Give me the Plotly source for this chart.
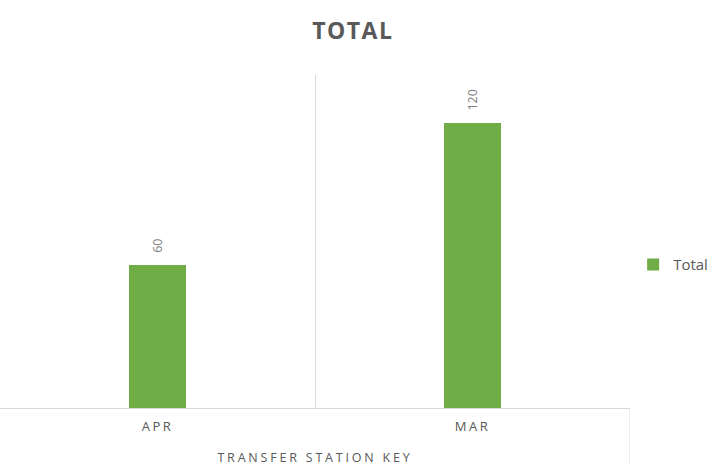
import plotly.graph_objects as go

categories = ["APR", "MAR"]
totals = [60, 120]
series_name = "Total"

GREEN = "#70ad47"
GRID = "#d9d9d9"
TXT = "#595959"
FONT = "Open Sans, Lato, sans-serif"

fig = go.Figure()
fig.add_trace(go.Bar(
    x=categories, y=totals, name=series_name,
    marker=dict(color=GREEN, line=dict(width=0)),
    width=0.184,
    showlegend=True,
    hoverinfo="skip",
))

# data labels placed via data coordinates
for c, v in zip(categories, totals):
    fig.add_annotation(x=c, y=v, xref="x", yref="y", text=str(v), showarrow=False,
                       textangle=-90, yanchor="bottom", xanchor="center", yshift=10,
                       font=dict(family=FONT, size=12.5, color="#7f7f7f"))

fig.update_layout(
    width=720, height=473,
    margin=dict(l=0, r=90, t=75, b=65),
    paper_bgcolor="white", plot_bgcolor="white",
    title=dict(text="<b>TOTAL</b>", x=0.49, xanchor="center", y=0.934, yanchor="middle",
               font=dict(family=FONT, size=23, color=TXT)),
    xaxis=dict(
        type="category", range=[-0.5, 1.5], tickson="boundaries",
        showgrid=True, gridcolor=GRID, gridwidth=1,
        showline=True, linecolor=GRID, linewidth=1,
        ticks="", ticklabelstandoff=6,
        tickfont=dict(family=FONT, size=13, color=TXT),
        title=dict(text="TRANSFER STATION KEY", standoff=19,
                   font=dict(family=FONT, size=12.5, color=TXT)),
        zeroline=False,
    ),
    yaxis=dict(range=[0, 140], showgrid=False, showticklabels=False, zeroline=False,
               showline=False, ticks=""),
    legend=dict(x=1.005, xanchor="left", y=0.43, yanchor="middle",
                font=dict(family=FONT, size=15, color=TXT),
                itemwidth=30),
    bargap=0,
)

fig.add_shape(type="line", xref="x", yref="paper", x0=1.5, x1=1.5, y0=-0.172, y1=0,
              line=dict(color=GRID, width=1))

post = """
document.body.style.margin='0';
function spacing(){
  document.querySelectorAll('.xtick text').forEach(function(e){e.style.letterSpacing='2.5px';});
  document.querySelectorAll('.g-xtitle text').forEach(function(e){e.style.letterSpacing='2.8px';});
  document.querySelectorAll('.g-gtitle text').forEach(function(e){e.style.letterSpacing='1.5px';});
}
spacing();
var gd=document.getElementsByClassName('plotly-graph-div')[0];
if(gd && gd.on){gd.on('plotly_afterplot', spacing);}
"""

fig.write_html("out.html", post_script=post, config={"displayModeBar": False})
